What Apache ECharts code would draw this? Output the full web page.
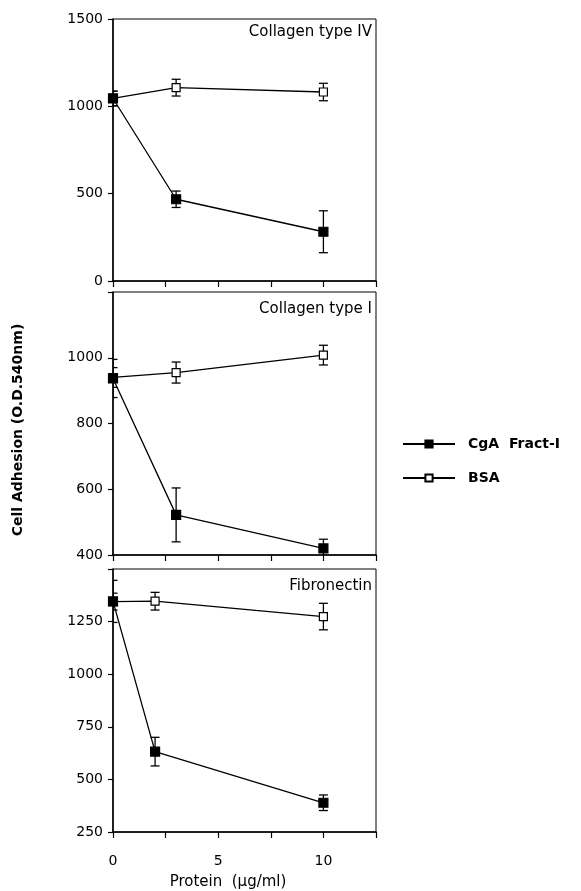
<!DOCTYPE html>
<html>
<head>
<meta charset="utf-8">
<script src="https://cdn.jsdelivr.net/npm/echarts@6/dist/echarts.min.js"></script>
<style>
  html, body { margin: 0; padding: 0; background: #fff; }
  #chart { width: 581px; height: 891px; }
</style>
</head>
<body>
<div id="chart"></div>
<script>
// x positions (µg/ml)
const doseA = [0, 3, 10]   // collagen IV & I
const doseB = [0, 2, 10]   // fibronectin

// Collagen type IV
const cgaIV = [1045, 468, 282]
const cgaIVErr = [42, 47, 120]
const bsaIV = [1045, 1107, 1082]
const bsaIVErr = [42, 48, 50]

// Collagen type I
const cgaI = [937, 522, 420]
const cgaIErr = [58, 82, 28]
const bsaI = [940, 955, 1008]
const bsaIErr = [30, 32, 30]

// Fibronectin
const cgaFn = [1346, 632, 389]
const cgaFnErr = [100, 68, 37]
const bsaFn = [1345, 1347, 1274]
const bsaFnErr = [40, 42, 63]

const panelTitles = ['Collagen type IV', 'Collagen type I', 'Fibronectin']
const yRanges = [[0, 1500, 500], [400, 1200, 200], [250, 1500, 250]]
const xTicks = { min: 0, max: 12.5, interval: 2.5 }

const font = 'DejaVu Sans'
const CGA = 'CgA  Fract-I'
const BSA = 'BSA'

const chart = echarts.init(document.getElementById('chart'))

const grids = [
  { left: 113, right: 205, top: 19, height: 262 },
  { left: 113, right: 205, top: 292, height: 263 },
  { left: 113, right: 205, top: 569, height: 263 }
].map(g => Object.assign(g, { show: true, borderColor: '#000', borderWidth: 1, backgroundColor: 'transparent' }))

const xAxes = grids.map((g, i) => ({
  type: 'value',
  gridIndex: i,
  min: xTicks.min,
  max: xTicks.max,
  interval: xTicks.interval,
  axisLine: { show: true, onZero: false, lineStyle: { color: '#000', width: 1.5 } },
  axisTick: { show: true, inside: false, length: 6, lineStyle: { color: '#000', width: 1.2 } },
  splitLine: { show: false },
  axisLabel: {
    show: i === 2,
    margin: 22,
    color: '#000',
    fontFamily: font,
    fontSize: 14,
    formatter: v => (v % 5 === 0 && v < 12) ? String(v) : ''
  }
}))

const yAxes = yRanges.map((r, i) => ({
  type: 'value',
  gridIndex: i,
  min: r[0],
  max: r[1],
  interval: r[2],
  axisLine: { show: true, onZero: false, lineStyle: { color: '#000', width: 1.5 } },
  axisTick: { show: true, inside: false, length: 5, lineStyle: { color: '#000', width: 1.2 } },
  splitLine: { show: false },
  axisLabel: {
    margin: 10,
    color: '#000',
    fontFamily: font,
    fontSize: 14,
    formatter: v => (i > 0 && v === r[1]) ? '' : String(v)
  }
}))

function errSeries (idx, xs, ys, es) {
  return {
    type: 'custom',
    xAxisIndex: idx,
    yAxisIndex: idx,
    clip: true,
    silent: true,
    z: 3,
    renderItem (params, api) {
      const x = api.value(0)
      const lo = api.coord([x, api.value(1)])
      const hi = api.coord([x, api.value(2)])
      const w = 4.5
      const st = { stroke: '#000', lineWidth: 1.3 }
      return {
        type: 'group',
        children: [
          { type: 'line', shape: { x1: lo[0], y1: lo[1], x2: hi[0], y2: hi[1] }, style: st },
          { type: 'line', shape: { x1: lo[0] - w, y1: lo[1], x2: lo[0] + w, y2: lo[1] }, style: st },
          { type: 'line', shape: { x1: hi[0] - w, y1: hi[1], x2: hi[0] + w, y2: hi[1] }, style: st }
        ]
      }
    },
    data: xs.map((x, k) => [x, ys[k] - es[k], ys[k] + es[k]])
  }
}

function lineSeries (idx, name, xs, ys, filled) {
  return {
    type: 'line',
    name: name,
    xAxisIndex: idx,
    yAxisIndex: idx,
    symbol: 'rect',
    symbolSize: filled ? 9 : 8,
    z: filled ? 5 : 4,
    lineStyle: { color: '#000', width: 1.3 },
    itemStyle: { color: filled ? '#000' : '#fff', borderColor: '#000', borderWidth: 1.2 },
    emphasis: { disabled: true },
    animation: false,
    data: xs.map((x, k) => [x, ys[k]])
  }
}

const panels = [
  [doseA, cgaIV, cgaIVErr, bsaIV, bsaIVErr],
  [doseA, cgaI, cgaIErr, bsaI, bsaIErr],
  [doseB, cgaFn, cgaFnErr, bsaFn, bsaFnErr]
]

const series = []
panels.forEach((p, i) => {
  series.push(errSeries(i, p[0], p[3], p[4]))
  series.push(errSeries(i, p[0], p[1], p[2]))
  series.push(lineSeries(i, BSA, p[0], p[3], false))
  series.push(lineSeries(i, CGA, p[0], p[1], true))
})

const titleTops = [25, 302, 579]

const options = {
  animation: false,
  title: panelTitles.map((t, i) => ({
    text: t,
    right: 209,
    top: titleTops[i],
    padding: 0,
    textStyle: { fontFamily: font, fontSize: 15, fontWeight: 'normal', color: '#000' }
  })),
  legend: {
    orient: 'vertical',
    left: 402,
    top: 437,
    padding: 0,
    itemWidth: 52,
    itemHeight: 9,
    itemGap: 20,
    data: [CGA, BSA],
    selectedMode: false,
    textStyle: { fontFamily: font, fontSize: 14, fontWeight: 'bold', color: '#000', padding: [0, 0, 0, 8] }
  },
  grid: grids,
  xAxis: xAxes,
  yAxis: yAxes,
  graphic: [
    {
      type: 'text',
      x: 18,
      y: 430,
      rotation: Math.PI / 2,
      style: {
        text: 'Cell Adhesion (O.D.540nm)',
        font: 'bold 14px "DejaVu Sans"',
        fill: '#000',
        align: 'center',
        verticalAlign: 'middle'
      }
    },
    {
      type: 'text',
      x: 228,
      y: 882,
      style: {
        text: 'Protein  (\u00b5g/ml)',
        font: '15px "DejaVu Sans"',
        fill: '#000',
        align: 'center',
        verticalAlign: 'middle'
      }
    }
  ],
  series: series
}

chart.setOption(options, true)
</script>
</body>
</html>
